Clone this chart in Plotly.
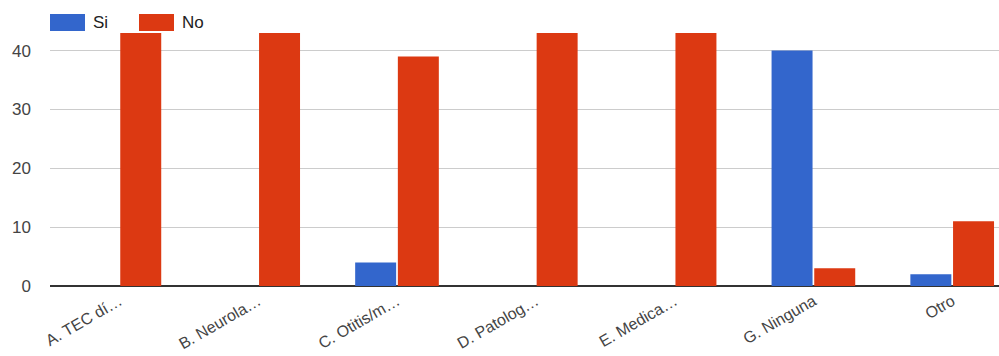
import plotly.graph_objects as go

categories = ["A. TEC dí…", "B. Neurola…", "C. Otitis/m…", "D. Patolog…", "E. Medica…", "G. Ninguna", "Otro"]
si_values = [0, 0, 4, 0, 0, 40, 2]
no_values = [43, 43, 39, 43, 43, 3, 11]
y_ticks = [0, 10, 20, 30, 40]

BLUE = "#3366cc"
RED = "#dc3912"
FONT = "Liberation Sans, Arial, sans-serif"

fig = go.Figure()
fig.add_trace(go.Bar(x=list(range(len(categories))), y=si_values, name="Si", marker_color=BLUE,
                     marker_line_width=0))
fig.add_trace(go.Bar(x=list(range(len(categories))), y=no_values, name="No", marker_color=RED,
                     marker_line_width=0))

W, H = 999, 356
left, right_px = 50, 999
top_px, bottom_px = 27, 286
ph = bottom_px - top_px
pw = right_px - left
fig.update_layout(
    width=W, height=H,
    margin=dict(l=left, r=0, t=top_px, b=H - bottom_px, autoexpand=False),
    paper_bgcolor="white", plot_bgcolor="white",
    barmode="group", bargap=0.385, bargroupgap=0.04,
    showlegend=False,
    font=dict(family=FONT, size=16, color="#444"),
    xaxis=dict(
        tickmode="array", tickvals=list(range(len(categories))), ticktext=categories,
        range=[-0.5, -0.5 + pw / 138.8],
        tickangle=-30, showgrid=False, zeroline=False, showline=False, ticks="",
        ticklabelstandoff=2,
        tickfont=dict(family=FONT, size=16, color="#444"),
    ),
    yaxis=dict(
        range=[0, 44], tickmode="array", tickvals=y_ticks,
        showgrid=True, gridcolor="#cccccc", gridwidth=1,
        zeroline=True, zerolinecolor="#333333", zerolinewidth=2,
        ticks="", ticklabelstandoff=18, showline=False,
        tickfont=dict(family=FONT, size=17, color="#444"),
    ),
)

# custom legend (top-left)
legend_items = [("Si", BLUE, 50), ("No", RED, 139)]
for name, color, x0 in legend_items:
    fig.add_shape(type="rect", xref="paper", yref="paper",
                  x0=(x0 - left) / pw, x1=(x0 + 35 - left) / pw,
                  y0=1 + (top_px - 31) / ph, y1=1 + (top_px - 14) / ph,
                  fillcolor=color, line=dict(width=0), layer="above")
    fig.add_annotation(x=(x0 + 41 - left) / pw, y=1 + (top_px - 22.5) / ph,
                       xref="paper", yref="paper", text=name, showarrow=False,
                       xanchor="left", yanchor="middle",
                       font=dict(family=FONT, size=17, color="#222"))

fig.write_html("out.html")
